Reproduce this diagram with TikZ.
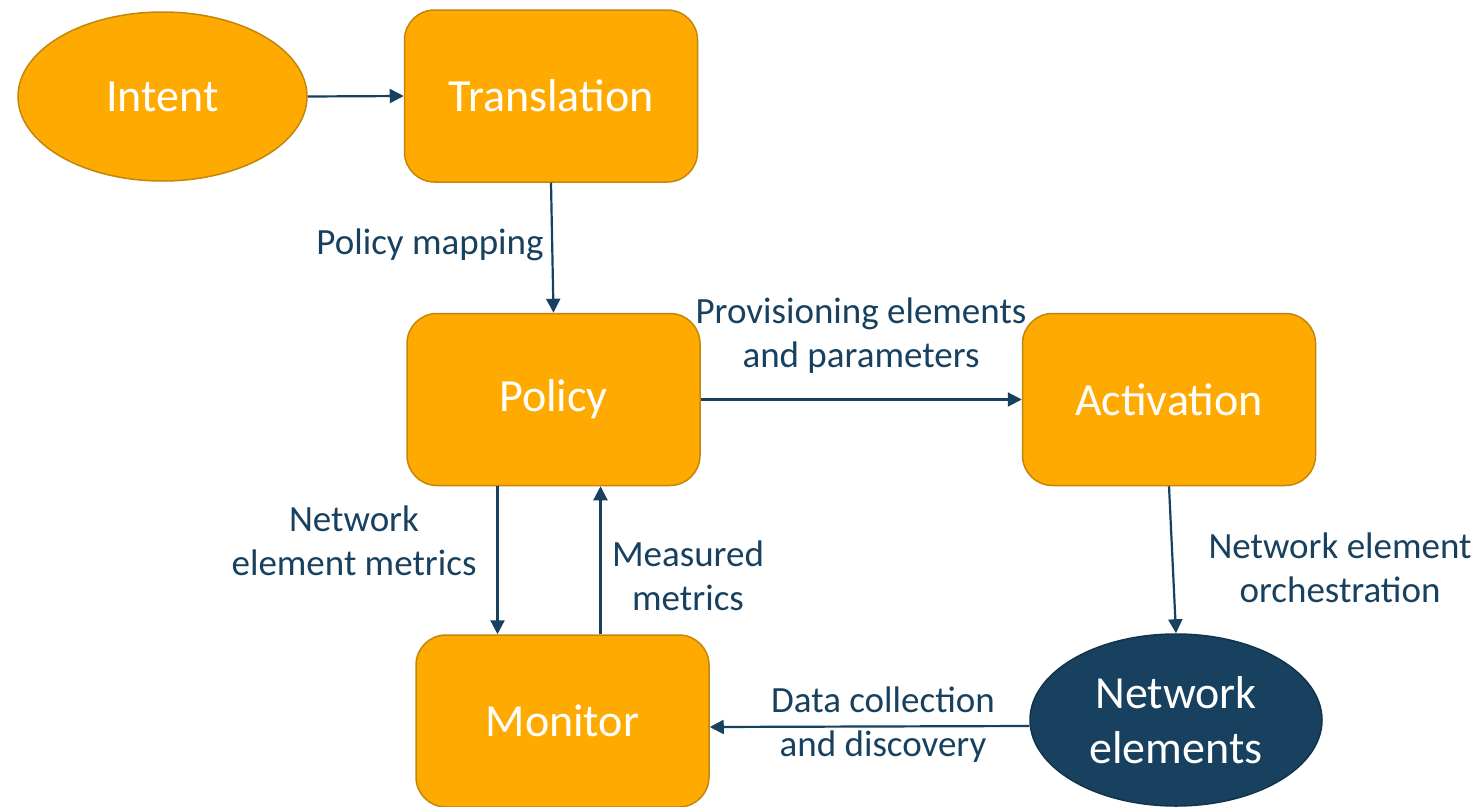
\documentclass[tikz,border=0pt]{standalone}
\usepackage{fontspec}
\setmainfont{Carlito}
\usetikzlibrary{positioning,arrows.meta,shapes.geometric}
\definecolor{stageorange}{RGB}{255,170,0}
\definecolor{stageedge}{RGB}{196,134,10}
\definecolor{netblue}{RGB}{23,65,94}
\tikzset{
  stagebox/.style={draw=stageedge, line width=1.5pt, fill=stageorange,
    rounded corners=30pt, text=white, font=\fontsize{46}{55}\selectfont,
    align=center, inner sep=0pt, minimum width=293pt, minimum height=172pt},
  stageoval/.style={ellipse, draw=stageedge, line width=1.5pt, fill=stageorange,
    text=white, font=\fontsize{46}{55}\selectfont,
    align=center, inner sep=0pt, minimum width=289pt, minimum height=169pt},
  netoval/.style={ellipse, draw=netblue!80!black, line width=1.5pt, fill=netblue,
    text=white, font=\fontsize{46}{55}\selectfont,
    align=center, inner sep=0pt, minimum width=292pt, minimum height=172pt},
  flowarr/.style={-{Triangle[length=14pt,width=14pt]}, line width=2.2pt, draw=netblue},
  flowlbl/.style={text=netblue, font=\fontsize{37}{44}\selectfont, align=center},
}
\begin{document}
\begin{tikzpicture}[x=1pt, y=-1pt]
  \useasboundingbox (0,0) rectangle (1478,806);
  % Stages
  \node[stageoval] at (162.5,96.5) (Intent)   {Intent};
  \node[stagebox]  at (551,96)     (Transl)   {Translation};
  \node[stagebox]  at (553.5,399.5) (Policy)  {Policy};
  \node[stagebox]  at (1169,399.5) (Activ)    {Activation};
  \node[stagebox]  at (562.5,721)  (Monitor)  {Monitor};
  \node[netoval]   at (1176,720)   (NetElems) {Network\\elements};
  % Edges
  \draw[flowarr] (Intent.east) -- (Transl.west);
  \draw[flowarr] (Transl.south) -- (Policy.north);
  \draw[flowarr] (Policy.east) -- (Activ.west);
  \draw[flowarr] ([xshift=-56pt]Policy.south) -- ([xshift=-65pt]Monitor.north);
  \draw[flowarr] ([xshift=38pt]Monitor.north) -- ([xshift=47pt]Policy.south);
  \draw[flowarr] (Activ.south) -- (NetElems.north);
  \draw[flowarr] ([yshift=-6pt]NetElems.west) -- ([yshift=-6pt]Monitor.east);
  % Edge labels
  \node[flowlbl] at (430,245)  (LblMap)  {Policy mapping};
  \node[flowlbl] at (861,336)  (LblProv) {Provisioning elements\\and parameters};
  \node[flowlbl] at (354,541)  (LblNem)  {Network\\element metrics};
  \node[flowlbl] at (688,576)  (LblMeas) {Measured\\metrics};
  \node[flowlbl] at (1340,568) (LblOrch) {Network element\\orchestration};
  \node[flowlbl] at (883,725)  (LblData) {Data collection\\and discovery};
\end{tikzpicture}
\end{document}
